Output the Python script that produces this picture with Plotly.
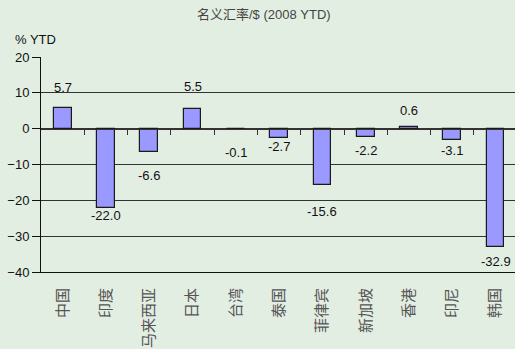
import plotly.graph_objects as go

# Nominal exchange rate vs USD, % change year-to-date 2008
economies = ["中国", "印度", "马来西亚", "日本", "台湾", "泰国",
             "菲律宾", "新加坡", "香港", "印尼", "韩国"]
ytd_change = [5.7, -22.0, -6.6, 5.5, -0.1, -2.7, -15.6, -2.2, 0.6, -3.1, -32.9]

# vertical offset (px) of each value label from the bar end
label_shift = [21, -8, -23, 22, -23, -8, -27, -14, 16, -11, -15]

W, H = 515, 349
L, T, B, R = 41, 57, 77, 0
plot_w = W - L - R
plot_h = H - T - B

bg = "#e3eee3"
bar_fill = "#9999ff"
latin = "Liberation Sans, Arial, sans-serif"
cjk = "Noto Sans CJK SC, sans-serif"

x_idx = list(range(len(economies)))

fig = go.Figure()
fig.add_trace(go.Bar(
    x=x_idx, y=ytd_change, width=0.41,
    marker=dict(color=bar_fill, line=dict(color="#1a1a1a", width=1.2)),
    hoverinfo="skip", showlegend=False,
))
# invisible trace so the zero-line axis gets drawn
fig.add_trace(go.Scatter(x=[-0.5, 10.45], y=[0, 0], xaxis="x2", mode="lines",
                         line=dict(width=0), hoverinfo="skip", showlegend=False))

x_range = [-0.5, 10.45]
fig.update_layout(
    width=W, height=H,
    margin=dict(l=L, r=R, t=T, b=B, pad=0),
    paper_bgcolor=bg, plot_bgcolor=bg,
    bargap=0,
    xaxis=dict(
        range=x_range, tickmode="array", tickvals=x_idx, ticktext=economies,
        tickfont=dict(family=cjk, size=15, color="#555555"),
        tickangle=-90, ticks="", ticklen=0, ticklabelstandoff=9,
        showgrid=False, zeroline=False,
        showline=True, linecolor="#111111", linewidth=1,
        fixedrange=True,
    ),
    xaxis2=dict(
        range=x_range, overlaying="x", anchor="free", position=2 / 3,
        side="bottom",
        tickmode="array", tickvals=[i + 0.5 for i in x_idx],
        ticks="outside", ticklen=5, tickwidth=1, tickcolor="#333333",
        showticklabels=False, showgrid=False, zeroline=False,
        showline=True, linecolor="#333333", linewidth=1,
    ),
    yaxis=dict(
        range=[-40, 20], dtick=10, tick0=0,
        tickfont=dict(family=latin, size=13, color="#111111"),
        ticks="outside", ticklen=8, tickcolor="#111111",
        showgrid=True, gridcolor="#333333", gridwidth=1,
        zeroline=False, showline=True, linecolor="#111111", linewidth=1,
        fixedrange=True,
    ),
)

annotations = []
for i, (v, dy) in enumerate(zip(ytd_change, label_shift)):
    annotations.append(dict(
        x=i, y=v, xref="x", yref="y", text=f"{v:.1f}", showarrow=False,
        yshift=dy, xanchor="center", yanchor="middle",
        font=dict(family=latin, size=13, color="#111111"),
    ))

annotations.append(dict(
    x=(264 - L) / plot_w, y=(H - B - 14) / plot_h, xref="paper", yref="paper",
    text="名义汇率/$ (2008 YTD)", showarrow=False,
    xanchor="center", yanchor="middle",
    font=dict(family=f"{latin}, {cjk}", size=13, color="#444444"),
))
annotations.append(dict(
    x=(13 - L) / plot_w, y=(H - B - 40) / plot_h, xref="paper", yref="paper",
    text="% YTD", showarrow=False, xanchor="left", yanchor="middle",
    font=dict(family=latin, size=13, color="#111111"),
))
fig.update_layout(annotations=annotations)

fig.write_html("out.html")
